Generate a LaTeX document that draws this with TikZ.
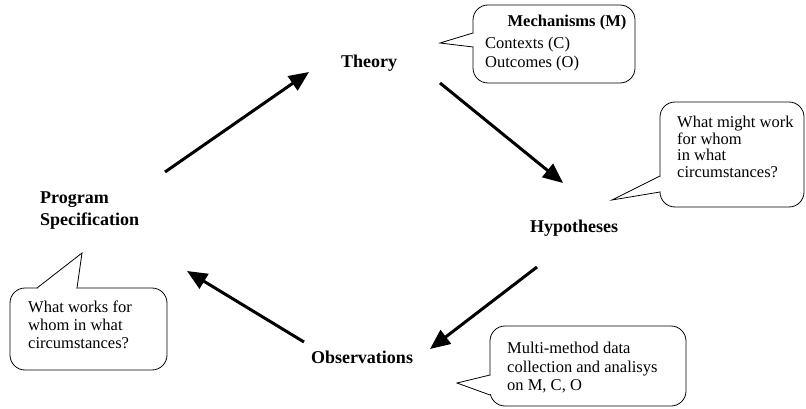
\documentclass[tikz,border=0pt]{standalone}
\usepackage{fontspec}
\setmainfont{Liberation Serif}
\usetikzlibrary{arrows.meta}
\begin{document}
\begin{tikzpicture}[x=1pt,y=-1pt,
  lbl/.style={font=\fontsize{18}{20}\selectfont\bfseries, inner sep=0pt},
  ctext/.style={font=\fontsize{16.5}{18.5}\selectfont, align=left, inner sep=0pt, anchor=north west},
  flow/.style={line width=3pt, -{Triangle[length=20pt,width=17pt]}},
  bubble/.style={line width=0.8pt, rounded corners=15pt},
  tail/.style={line width=0.8pt, fill=white, line join=miter},
  gap/.style={white, line width=1.8pt}]
\useasboundingbox (0,0) rectangle (806,409);

% main labels
\node[lbl] (theory) at (369,63) {Theory};
\node[lbl] (hyp) at (574,228) {Hypotheses};
\node[lbl] (obs) at (362,357) {Observations};
\node[lbl, align=left, anchor=north west, font=\fontsize{18}{22}\selectfont\bfseries] (prog) at (40,192) {Program\\Specification};

% arrow end points
\coordinate (a1s) at (165,172); \coordinate (a1e) at (309,72);
\coordinate (a2s) at (440,83);  \coordinate (a2e) at (563,183);
\coordinate (a3s) at (537,267); \coordinate (a3e) at (430,349);
\coordinate (a4s) at (304,342); \coordinate (a4e) at (187,271);
\draw[flow] (a1s) -- (a1e);
\draw[flow] (a2s) -- (a2e);
\draw[flow] (a3s) -- (a3e);
\draw[flow] (a4s) -- (a4e);

% callout 1: Mechanisms
\draw[bubble] (473,5) rectangle (635,83);
\draw[gap] (473,34) -- (473,46);
\filldraw[tail] (473,33) -- (440,43) -- (473,47);
\node[font=\fontsize{16.5}{18.5}\selectfont\bfseries, inner sep=0pt] (mech) at (567,23) {Mechanisms (M)};
\node[ctext] (c1t) at (485,37) {Contexts (C)\\Outcomes (O)};

% callout 2: Hypotheses
\draw[bubble] (660,102) rectangle (804,207);
\draw[gap] (660,177) -- (660,191);
\filldraw[tail] (660,176) -- (612,200) -- (660,192);
\node[ctext, font=\fontsize{16.5}{16.5}\selectfont] (c2t) at (677,116) {What might work\\for whom\\in what\\circumstances?};

% callout 3: Program specification
\draw[bubble] (10,288) rectangle (167,370);
\draw[gap] (38,288) -- (76,288);
\filldraw[tail] (37,288) -- (82,253) -- (77,288);
\node[ctext, font=\fontsize{16.5}{18}\selectfont] (c3t) at (28,301) {What works for\\whom in what\\circumstances?};

% callout 4: Observations
\draw[bubble] (490,326) rectangle (686,406);
\draw[gap] (490,376) -- (490,394);
\filldraw[tail] (490,375) -- (457,383) -- (490,395);
\node[ctext] (c4t) at (507,342) {Multi-method data\\collection and analisys\\on M, C, O};
\end{tikzpicture}
\end{document}
